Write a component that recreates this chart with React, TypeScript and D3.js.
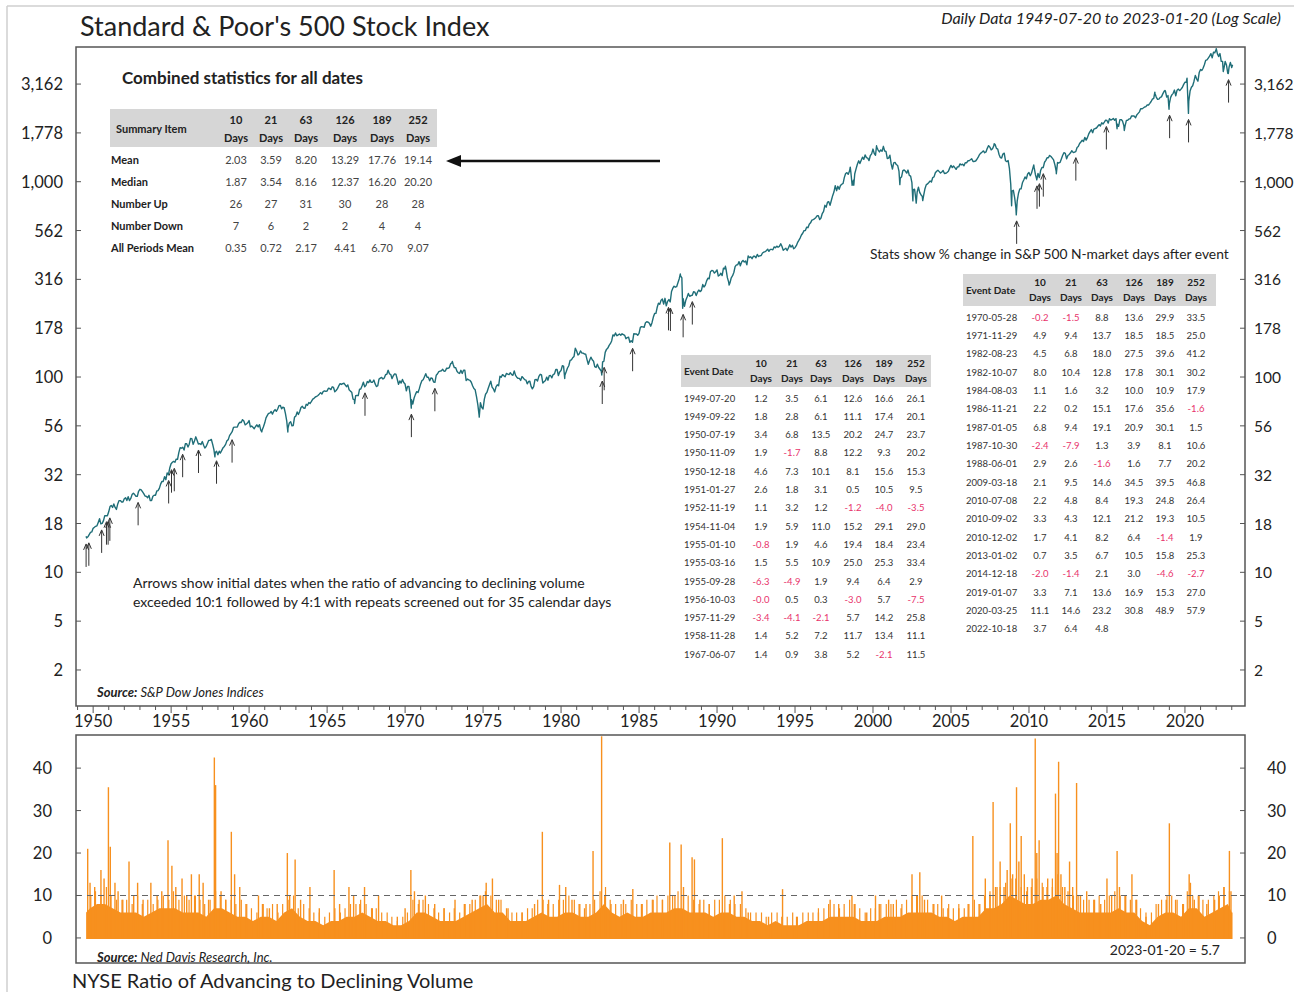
import React from 'react';
import * as d3 from 'd3';

const W = 1294;
const H = 992;
const FONT = "Lato, 'Open Sans', sans-serif";

// ---------- S&P 500 month-end values (from 1949-07) ----------
const spxFirstYear = 1949;
const spxFirstMonth = 6; // July (0-based)
const spxMonthly: number[] = [
  15.0, 15.2, 15.6, 16.0, 16.1, 16.8,
  17.0, 17.2, 17.3, 18.0, 18.8, 17.7, 17.8, 18.4, 19.5, 19.5, 19.5, 20.4,
  21.7, 22.0, 21.5, 22.4, 21.5, 21.0, 22.4, 23.3, 23.3, 22.9, 22.9, 23.8,
  24.1, 23.3, 24.4, 23.3, 23.9, 25.0, 25.4, 25.0, 24.5, 24.5, 26.0, 26.6,
  26.4, 25.9, 25.3, 24.6, 24.5, 24.1, 24.8, 23.3, 23.3, 24.5, 24.8, 24.8,
  26.1, 26.2, 26.9, 28.3, 29.2, 29.2, 30.9, 29.8, 32.3, 31.7, 34.2, 36.0,
  36.6, 37.0, 36.6, 38.0, 37.9, 41.0, 43.5, 43.2, 43.7, 42.3, 45.5, 45.5,
  43.8, 45.3, 48.5, 48.4, 45.2, 47.0, 49.4, 47.5, 45.4, 45.6, 45.1, 46.7,
  44.7, 43.3, 44.1, 45.7, 47.4, 47.4, 47.9, 45.2, 42.4, 41.1, 41.7, 40.0,
  41.7, 40.8, 42.1, 43.4, 44.1, 45.2, 47.2, 47.8, 50.1, 51.3, 52.5, 55.2,
  55.4, 55.4, 55.4, 57.6, 58.7, 58.5, 60.5, 59.6, 56.9, 57.5, 58.3, 59.9,
  55.6, 56.1, 55.3, 54.4, 55.8, 56.9, 55.5, 57.0, 53.5, 53.4, 55.5, 58.1,
  61.8, 63.4, 65.1, 65.3, 66.6, 64.6, 66.8, 68.1, 66.7, 68.6, 71.3, 71.6,
  68.8, 70.0, 69.6, 65.2, 59.6, 54.8, 58.2, 59.1, 56.3, 56.5, 62.3, 63.1,
  66.2, 64.3, 66.6, 69.8, 70.8, 69.4, 69.1, 72.5, 71.7, 74.0, 73.2, 75.0,
  77.0, 77.8, 79.0, 79.5, 80.4, 81.7, 83.2, 81.8, 84.2, 84.9, 84.4, 84.8,
  87.6, 87.4, 86.2, 89.1, 88.4, 84.1, 85.3, 87.2, 90.0, 92.4, 91.6, 92.4,
  92.9, 91.2, 89.2, 91.1, 86.1, 84.7, 83.6, 77.1, 76.6, 80.2, 80.5, 80.3,
  86.6, 86.8, 90.2, 94.0, 89.1, 90.6, 94.8, 93.6, 96.7, 93.9, 94.0, 96.5,
  92.2, 89.4, 90.2, 97.6, 98.7, 99.6, 97.7, 98.9, 102.7, 103.4, 108.4, 103.9,
  103.0, 98.1, 101.5, 103.7, 103.5, 97.7, 91.8, 95.5, 93.1, 97.2, 93.8, 92.1,
  85.0, 89.5, 89.6, 81.5, 76.6, 72.7, 78.1, 81.5, 84.2, 83.3, 87.2, 92.2,
  95.9, 96.8, 100.3, 104.0, 99.6, 99.7, 95.6, 99.0, 98.3, 94.2, 94.0, 102.1,
  103.9, 106.6, 107.2, 107.7, 109.5, 107.1, 107.4, 111.1, 110.6, 111.6, 116.7, 118.1,
  116.0, 111.7, 111.5, 107.0, 105.0, 104.3, 108.2, 104.3, 108.4, 108.3, 96.0, 97.6,
  96.6, 96.2, 94.0, 90.3, 87.3, 86.0, 79.3, 72.2, 63.5, 73.9, 70.0, 68.6,
  77.0, 81.6, 83.4, 87.3, 91.2, 95.2, 88.8, 86.9, 83.9, 89.0, 91.2, 90.2,
  100.9, 99.7, 102.8, 101.6, 100.2, 104.3, 103.4, 102.9, 105.2, 102.9, 102.1, 107.5,
  102.0, 99.8, 98.4, 98.4, 96.1, 100.5, 98.9, 97.0, 96.5, 92.3, 94.8, 95.1,
  89.3, 87.0, 89.2, 97.0, 97.2, 95.5, 100.7, 103.3, 102.5, 93.2, 94.7, 96.1,
  99.9, 96.3, 101.6, 101.8, 99.1, 102.9, 103.8, 109.3, 109.3, 101.8, 106.2, 107.9,
  114.2, 113.7, 102.1, 106.3, 111.2, 114.2, 121.7, 122.4, 125.5, 127.5, 140.5, 135.8,
  129.6, 131.3, 136.0, 132.8, 132.6, 131.2, 130.9, 122.8, 116.2, 121.9, 126.4, 122.6,
  120.4, 113.1, 112.0, 116.4, 111.9, 109.6, 107.1, 119.5, 120.4, 133.7, 138.5, 140.6,
  145.3, 148.1, 153.0, 164.4, 162.4, 168.1, 162.6, 164.4, 166.1, 163.6, 166.4, 164.9,
  163.4, 157.1, 159.2, 160.1, 150.6, 153.2, 150.7, 166.7, 166.1, 166.1, 163.6, 167.2,
  179.6, 181.2, 180.7, 179.8, 189.6, 191.9, 190.9, 188.6, 182.1, 189.8, 202.2, 211.3,
  211.8, 226.9, 238.9, 235.5, 247.4, 250.8, 236.1, 252.9, 231.3, 244.0, 249.2, 242.2,
  274.1, 284.2, 291.7, 288.4, 290.1, 304.0, 318.7, 329.8, 321.8, 251.8, 230.3, 247.1,
  257.1, 267.8, 258.9, 261.3, 262.2, 273.5, 272.0, 261.5, 271.9, 279.0, 273.7, 277.7,
  297.5, 288.9, 294.9, 309.6, 320.5, 318.0, 346.1, 351.5, 349.2, 340.4, 346.0, 353.4,
  329.1, 331.9, 339.9, 330.8, 361.2, 358.0, 356.2, 322.6, 306.1, 304.0, 322.2, 330.2,
  343.9, 367.1, 375.2, 375.3, 389.8, 371.2, 387.8, 395.4, 387.9, 392.5, 375.2, 417.1,
  408.8, 412.7, 403.7, 415.0, 415.4, 408.1, 424.2, 414.0, 417.8, 418.7, 431.4, 435.7,
  438.8, 443.4, 451.7, 440.2, 450.2, 450.5, 448.1, 463.6, 458.9, 467.8, 461.8, 466.5,
  481.6, 467.1, 445.8, 450.9, 456.5, 444.3, 458.3, 475.5, 462.7, 472.4, 453.7, 459.3,
  470.4, 487.4, 500.7, 514.7, 533.4, 544.8, 562.1, 561.9, 584.4, 581.5, 605.4, 615.9,
  636.0, 640.4, 645.5, 654.2, 669.1, 670.6, 640.0, 652.0, 687.3, 705.3, 757.0, 740.7,
  786.2, 790.8, 757.1, 801.3, 848.3, 885.1, 954.3, 899.5, 947.3, 914.6, 955.4, 970.4,
  980.3, 1049.3, 1101.8, 1111.8, 1090.8, 1133.8, 1120.7, 957.3, 1017.0, 1098.7, 1163.6, 1229.2,
  1279.6, 1238.3, 1286.4, 1335.2, 1301.8, 1372.7, 1328.7, 1320.4, 1282.7, 1362.9, 1389.0, 1469.3,
  1394.5, 1366.4, 1498.6, 1452.4, 1420.6, 1454.6, 1430.8, 1517.7, 1436.5, 1429.4, 1315.2, 1320.3,
  1366.0, 1239.9, 1160.3, 1249.5, 1255.8, 1224.4, 1211.2, 1133.6, 1040.9, 1059.8, 1139.5, 1148.1,
  1130.2, 1106.7, 1147.4, 1076.9, 1067.1, 989.8, 911.6, 916.1, 815.3, 885.8, 936.3, 879.8,
  855.7, 841.2, 848.2, 916.9, 963.6, 974.5, 990.3, 1008.0, 996.0, 1050.7, 1058.2, 1111.9,
  1131.1, 1144.9, 1126.2, 1107.3, 1120.7, 1140.8, 1101.7, 1104.2, 1114.6, 1130.2, 1173.8, 1211.9,
  1181.3, 1203.6, 1180.6, 1156.9, 1191.5, 1191.3, 1234.2, 1220.3, 1228.8, 1207.0, 1249.5, 1248.3,
  1280.1, 1280.7, 1294.9, 1310.6, 1270.1, 1270.2, 1276.7, 1303.8, 1335.9, 1377.9, 1400.6, 1418.3,
  1438.2, 1406.8, 1420.9, 1482.4, 1530.6, 1503.4, 1455.3, 1474.0, 1526.8, 1549.4, 1481.1, 1468.4,
  1378.6, 1330.6, 1322.7, 1385.6, 1400.4, 1280.0, 1267.4, 1282.8, 1166.4, 968.8, 896.2, 903.3,
  825.9, 735.1, 797.9, 872.8, 919.1, 919.3, 987.5, 1020.6, 1057.1, 1036.2, 1095.6, 1115.1,
  1073.9, 1104.5, 1169.4, 1186.7, 1089.4, 1030.7, 1101.6, 1049.3, 1141.2, 1183.3, 1180.6, 1257.6,
  1286.1, 1327.2, 1325.8, 1363.6, 1345.2, 1320.6, 1292.3, 1218.9, 1131.4, 1253.3, 1247.0, 1257.6,
  1312.4, 1365.7, 1408.5, 1397.9, 1310.3, 1362.2, 1379.3, 1406.6, 1440.7, 1412.2, 1416.2, 1426.2,
  1498.1, 1514.7, 1569.2, 1597.6, 1630.7, 1606.3, 1685.7, 1633.0, 1681.6, 1756.5, 1805.8, 1848.4,
  1782.6, 1859.5, 1872.3, 1884.0, 1923.6, 1960.2, 1930.7, 2003.4, 1972.3, 2018.1, 2067.6, 2058.9,
  1995.0, 2104.5, 2067.9, 2085.5, 2107.4, 2063.1, 2103.8, 1972.2, 1920.0, 2079.4, 2080.4, 2043.9,
  1940.2, 1932.2, 2059.7, 2065.3, 2097.0, 2098.9, 2173.6, 2171.0, 2168.3, 2126.2, 2198.8, 2238.8,
  2278.9, 2363.6, 2362.7, 2384.2, 2411.8, 2423.4, 2470.3, 2471.7, 2519.4, 2575.3, 2647.6, 2673.6,
  2823.8, 2713.8, 2640.9, 2648.1, 2705.3, 2718.4, 2816.3, 2901.5, 2914.0, 2711.7, 2760.2, 2506.9,
  2704.1, 2784.5, 2834.4, 2945.8, 2752.1, 2941.8, 2980.4, 2926.5, 2976.7, 3037.6, 3141.0, 3230.8,
  3225.5, 2954.2, 2584.6, 2912.4, 3044.3, 3100.3, 3271.1, 3500.3, 3363.0, 3270.0, 3621.6, 3756.1,
  3714.2, 3811.2, 3972.9, 4181.2, 4204.1, 4297.5, 4395.3, 4522.7, 4307.5, 4605.4, 4567.0, 4766.2,
  4515.6, 4373.9, 4530.4, 4131.9, 4132.2, 3785.4, 4130.3, 3955.0, 3585.6, 3872.0, 4080.1, 3839.5,
];

// intra-month highs / lows and endpoints
const spxExtremes: [string, number][] = [
  ['1949-07-20', 15.3], ['1957-10-22', 39.0], ['1960-10-25', 52.3], ['1962-06-26', 52.3],
  ['1966-10-07', 73.2], ['1968-11-29', 108.4], ['1970-05-26', 69.3], ['1973-01-11', 120.2],
  ['1974-10-03', 62.3], ['1980-03-27', 98.2], ['1982-08-12', 102.4], ['1987-08-25', 336.8],
  ['1987-10-19', 224.8], ['1990-07-16', 369.0], ['1990-10-11', 295.5], ['1998-07-17', 1186.8],
  ['1998-10-08', 959.4], ['2000-03-24', 1527.5], ['2001-09-21', 965.8], ['2002-07-23', 797.7],
  ['2002-10-09', 776.8], ['2003-03-11', 800.7], ['2007-10-09', 1565.2], ['2008-11-20', 752.4],
  ['2009-03-09', 676.5], ['2010-04-23', 1217.3], ['2010-07-02', 1022.6], ['2011-04-29', 1363.6],
  ['2011-10-03', 1099.2], ['2015-08-25', 1867.6], ['2016-02-11', 1829.1], ['2018-01-26', 2872.9],
  ['2018-09-20', 2930.8], ['2018-12-24', 2351.1], ['2020-02-19', 3386.2], ['2020-03-23', 2237.4],
  ['2022-01-03', 4796.6], ['2022-06-16', 3666.8], ['2022-10-12', 3577.0], ['2023-01-20', 3972.6],
];

const yTickValues = [3.162, 5.623, 10, 17.78, 31.62, 56.23, 100, 177.8, 316.2, 562.3, 1000, 1778, 3162];
const yTickLabels = ['2', '5', '10', '18', '32', '56', '100', '178', '316', '562', '1,000', '1,778', '3,162'];
const yearTicks = [1950, 1955, 1960, 1965, 1970, 1975, 1980, 1985, 1990, 1995, 2000, 2005, 2010, 2015, 2020];

// ---------- events (arrows) ----------
const eventDates = [
  '1949-07-20', '1949-09-22', '1950-07-19', '1950-11-09', '1950-12-18', '1951-01-27', '1952-11-19',
  '1954-11-04', '1955-01-10', '1955-03-16', '1955-09-28', '1956-10-03', '1957-11-29', '1958-11-28',
  '1967-06-07', '1970-05-28', '1971-11-29', '1982-08-23', '1982-10-07', '1984-08-03', '1986-11-21',
  '1987-01-05', '1987-10-30', '1988-06-01', '2009-03-18', '2010-07-08', '2010-09-02', '2010-12-02',
  '2013-01-02', '2014-12-18', '2019-01-07', '2020-03-25', '2022-10-18',
];

// ---------- tables ----------
const periodCols = ['10', '21', '63', '126', '189', '252'];
const summaryLabels = ['Mean', 'Median', 'Number Up', 'Number Down', 'All Periods Mean'];
const summaryValues = [
  ['2.03', '3.59', '8.20', '13.29', '17.76', '19.14'],
  ['1.87', '3.54', '8.16', '12.37', '16.20', '20.20'],
  ['26', '27', '31', '30', '28', '28'],
  ['7', '6', '2', '2', '4', '4'],
  ['0.35', '0.72', '2.17', '4.41', '6.70', '9.07'],
];
const tableA: [string, string[]][] = [
  ['1949-07-20', ['1.2', '3.5', '6.1', '12.6', '16.6', '26.1']],
  ['1949-09-22', ['1.8', '2.8', '6.1', '11.1', '17.4', '20.1']],
  ['1950-07-19', ['3.4', '6.8', '13.5', '20.2', '24.7', '23.7']],
  ['1950-11-09', ['1.9', '-1.7', '8.8', '12.2', '9.3', '20.2']],
  ['1950-12-18', ['4.6', '7.3', '10.1', '8.1', '15.6', '15.3']],
  ['1951-01-27', ['2.6', '1.8', '3.1', '0.5', '10.5', '9.5']],
  ['1952-11-19', ['1.1', '3.2', '1.2', '-1.2', '-4.0', '-3.5']],
  ['1954-11-04', ['1.9', '5.9', '11.0', '15.2', '29.1', '29.0']],
  ['1955-01-10', ['-0.8', '1.9', '4.6', '19.4', '18.4', '23.4']],
  ['1955-03-16', ['1.5', '5.5', '10.9', '25.0', '25.3', '33.4']],
  ['1955-09-28', ['-6.3', '-4.9', '1.9', '9.4', '6.4', '2.9']],
  ['1956-10-03', ['-0.0', '0.5', '0.3', '-3.0', '5.7', '-7.5']],
  ['1957-11-29', ['-3.4', '-4.1', '-2.1', '5.7', '14.2', '25.8']],
  ['1958-11-28', ['1.4', '5.2', '7.2', '11.7', '13.4', '11.1']],
  ['1967-06-07', ['1.4', '0.9', '3.8', '5.2', '-2.1', '11.5']],
];
const tableB: [string, string[]][] = [
  ['1970-05-28', ['-0.2', '-1.5', '8.8', '13.6', '29.9', '33.5']],
  ['1971-11-29', ['4.9', '9.4', '13.7', '18.5', '18.5', '25.0']],
  ['1982-08-23', ['4.5', '6.8', '18.0', '27.5', '39.6', '41.2']],
  ['1982-10-07', ['8.0', '10.4', '12.8', '17.8', '30.1', '30.2']],
  ['1984-08-03', ['1.1', '1.6', '3.2', '10.0', '10.9', '17.9']],
  ['1986-11-21', ['2.2', '0.2', '15.1', '17.6', '35.6', '-1.6']],
  ['1987-01-05', ['6.8', '9.4', '19.1', '20.9', '30.1', '1.5']],
  ['1987-10-30', ['-2.4', '-7.9', '1.3', '3.9', '8.1', '10.6']],
  ['1988-06-01', ['2.9', '2.6', '-1.6', '1.6', '7.7', '20.2']],
  ['2009-03-18', ['2.1', '9.5', '14.6', '34.5', '39.5', '46.8']],
  ['2010-07-08', ['2.2', '4.8', '8.4', '19.3', '24.8', '26.4']],
  ['2010-09-02', ['3.3', '4.3', '12.1', '21.2', '19.3', '10.5']],
  ['2010-12-02', ['1.7', '4.1', '8.2', '6.4', '-1.4', '1.9']],
  ['2013-01-02', ['0.7', '3.5', '6.7', '10.5', '15.8', '25.3']],
  ['2014-12-18', ['-2.0', '-1.4', '2.1', '3.0', '-4.6', '-2.7']],
  ['2019-01-07', ['3.3', '7.1', '13.6', '16.9', '15.3', '27.0']],
  ['2020-03-25', ['11.1', '14.6', '23.2', '30.8', '48.9', '57.9']],
  ['2022-10-18', ['3.7', '6.4', '4.8', '', '', '']],
];

// ---------- NYSE advancing / declining volume ratio ----------
// dense-mass level per half year [year, H1, H2]
const adBase: [number, number, number][] = [
  [1949, 6, 7], [1950, 8, 8], [1951, 7, 6], [1952, 6, 6], [1953, 5, 6], [1954, 7, 7], [1955, 7, 6],
  [1956, 6, 6], [1957, 5, 7], [1958, 7, 6], [1959, 5, 5], [1960, 4, 5], [1961, 5, 4], [1962, 6, 7],
  [1963, 5, 4], [1964, 4, 3], [1965, 4, 4], [1966, 5, 5], [1967, 6, 5], [1968, 4, 4], [1969, 3, 3],
  [1970, 4, 6], [1971, 6, 5], [1972, 4, 4], [1973, 4, 5], [1974, 6, 7], [1975, 8, 6], [1976, 6, 4],
  [1977, 4, 4], [1978, 5, 6], [1979, 5, 5], [1980, 6, 6], [1981, 5, 5], [1982, 6, 8], [1983, 6, 5],
  [1984, 6, 5], [1985, 5, 6], [1986, 6, 6], [1987, 7, 7], [1988, 6, 6], [1989, 6, 5], [1990, 6, 6],
  [1991, 5, 5], [1992, 4, 4], [1993, 3, 4], [1994, 3, 3], [1995, 3, 4], [1996, 4, 4], [1997, 5, 5],
  [1998, 5, 5], [1999, 4, 4], [2000, 4, 5], [2001, 5, 5], [2002, 6, 6], [2003, 6, 6], [2004, 5, 5],
  [2005, 4, 5], [2006, 5, 5], [2007, 7, 7], [2008, 8, 10], [2009, 9, 8], [2010, 8, 9], [2011, 9, 10],
  [2012, 8, 7], [2013, 6, 6], [2014, 6, 6], [2015, 6, 7], [2016, 6, 6], [2017, 4, 3], [2018, 5, 6],
  [2019, 6, 5], [2020, 7, 7], [2021, 5, 6], [2022, 7, 8], [2023, 6, 6],
];
// smaller local peaks per third of each year [year, early, mid, late]
const adMinor: [number, number, number, number][] = [
  [1949, 9, 9, 10], [1950, 11, 10, 12], [1951, 10, 9, 9], [1952, 9, 8, 10], [1953, 8, 9, 8],
  [1954, 9, 10, 9], [1955, 11, 9, 10], [1956, 9, 10, 9], [1957, 8, 9, 11], [1958, 10, 9, 9],
  [1959, 8, 9, 8], [1960, 7, 6, 8], [1961, 7, 8, 6], [1962, 8, 9, 10], [1963, 7, 8, 7],
  [1964, 6, 6, 5], [1965, 6, 7, 6], [1966, 7, 8, 8], [1967, 9, 8, 7], [1968, 7, 6, 6],
  [1969, 5, 4, 5], [1970, 6, 9, 8], [1971, 9, 8, 7], [1972, 6, 7, 6], [1973, 7, 6, 8],
  [1974, 8, 9, 10], [1975, 11, 10, 9], [1976, 9, 7, 6], [1977, 6, 6, 7], [1978, 7, 9, 9],
  [1979, 8, 8, 9], [1980, 9, 10, 9], [1981, 8, 7, 8], [1982, 9, 11, 12], [1983, 9, 8, 8],
  [1984, 8, 9, 8], [1985, 8, 9, 9], [1986, 10, 9, 10], [1987, 10, 11, 10], [1988, 10, 9, 8],
  [1989, 9, 8, 9], [1990, 9, 10, 9], [1991, 8, 8, 7], [1992, 6, 6, 6], [1993, 5, 6, 6],
  [1994, 5, 5, 6], [1995, 5, 6, 6], [1996, 6, 7, 7], [1997, 8, 8, 7], [1998, 8, 9, 8],
  [1999, 7, 6, 7], [2000, 7, 8, 8], [2001, 8, 9, 8], [2002, 9, 10, 10], [2003, 10, 9, 8],
  [2004, 8, 7, 8], [2005, 7, 8, 7], [2006, 8, 9, 8], [2007, 10, 11, 12], [2008, 12, 13, 14],
  [2009, 14, 12, 11], [2010, 12, 14, 13], [2011, 12, 14, 15], [2012, 12, 11, 10], [2013, 10, 9, 9],
  [2014, 9, 10, 9], [2015, 10, 11, 10], [2016, 10, 9, 9], [2017, 7, 6, 6], [2018, 8, 9, 10],
  [2019, 10, 9, 8], [2020, 11, 10, 10], [2021, 9, 9, 10], [2022, 11, 12, 11],
];
const adSpikes: [number, number][] = [
  [1949.65, 21], [1949.8, 13], [1950.1, 12], [1950.5, 16], [1950.7, 14], [1950.98, 35.5], [1951.1, 21.5],
  [1951.4, 13], [1951.6, 11], [1951.9, 9], [1952.3, 18], [1952.6, 10], [1952.85, 13], [1953.2, 9],
  [1953.7, 13], [1954.1, 10], [1954.4, 11], [1954.8, 23], [1955.05, 17], [1955.3, 12], [1955.7, 14],
  [1956.0, 10], [1956.3, 15], [1956.55, 10], [1956.8, 15], [1957.05, 13], [1957.4, 9], [1957.77, 42.5],
  [1957.85, 36], [1958.2, 11], [1958.5, 9], [1958.86, 25], [1959.07, 15], [1959.4, 12], [1959.8, 8],
  [1960.6, 10], [1960.9, 8], [1961.3, 7], [1961.8, 8], [1962.45, 20], [1962.6, 10], [1962.95, 18.5],
  [1963.3, 9], [1963.9, 12], [1964.5, 7], [1965.45, 16], [1965.8, 8], [1966.4, 12], [1966.7, 10],
  [1967.1, 8], [1967.4, 12], [1967.9, 7], [1968.3, 10], [1969.5, 5], [1970.0, 7], [1970.37, 16],
  [1970.6, 11], [1970.9, 9], [1971.3, 10], [1971.9, 8], [1972.5, 7], [1973.2, 9], [1973.8, 8],
  [1974.3, 9], [1974.8, 10], [1975.0, 10], [1975.2, 13], [1975.6, 14], [1976.0, 9], [1976.6, 7],
  [1977.5, 6], [1978.3, 8], [1978.8, 25], [1979.2, 9], [1979.9, 12.5], [1980.3, 12], [1980.7, 9],
  [1981.2, 8], [1981.6, 8], [1982.05, 20.5], [1982.6, 47.5], [1982.8, 10], [1983.2, 8], [1984.0, 9],
  [1984.6, 11.5], [1985.2, 8], [1985.9, 9], [1986.5, 9], [1986.97, 22.5], [1987.3, 10], [1987.7, 22],
  [1987.85, 12], [1988.4, 19], [1988.55, 18.5], [1988.9, 9], [1989.5, 8], [1990.34, 23.5], [1990.8, 8],
  [1991.1, 10], [1991.6, 11], [1992.0, 6], [1993.3, 5], [1994.2, 11.5], [1995.1, 5], [1996.5, 6],
  [1997.25, 9], [1997.8, 8], [1998.65, 10], [1998.8, 8], [1999.6, 6], [2000.16, 10], [2000.4, 8],
  [2001.0, 9], [2001.3, 8], [2001.8, 7], [2002.5, 15], [2002.8, 10], [2003.0, 15.5], [2003.3, 9],
  [2003.9, 8], [2004.4, 10], [2004.8, 7], [2005.5, 7], [2006.1, 8], [2006.4, 24], [2006.8, 8],
  [2007.2, 14], [2007.5, 10], [2007.7, 32], [2007.95, 12], [2008.15, 18], [2008.4, 12], [2008.6, 16],
  [2008.8, 27], [2008.95, 15], [2009.2, 35.5], [2009.35, 18], [2009.5, 24], [2009.7, 15], [2009.9, 12],
  [2010.2, 14], [2010.4, 47], [2010.5, 20], [2010.65, 23], [2010.9, 12], [2011.2, 14], [2011.5, 12],
  [2011.7, 34], [2011.8, 20], [2011.9, 41.5], [2012.05, 15], [2012.3, 12], [2012.6, 18], [2012.8, 12],
  [2013.05, 36.5], [2013.3, 10], [2013.7, 11], [2014.2, 9], [2014.6, 8], [2015.0, 14], [2015.3, 10],
  [2015.65, 20.5], [2015.8, 12], [2016.2, 10], [2016.6, 15], [2016.9, 9], [2017.5, 5], [2018.3, 8],
  [2018.8, 9], [2019.0, 27], [2019.4, 9], [2019.9, 8], [2020.27, 15], [2020.35, 13], [2020.6, 9],
  [2020.9, 10], [2021.4, 8], [2021.9, 9], [2022.2, 10], [2022.5, 12], [2022.85, 20.5], [2022.95, 11],
];
const adTicks = [0, 10, 20, 30, 40];

// ---------- helpers ----------
const yearToDate = (yv: number) => {
  const yr = Math.floor(yv);
  const s = new Date(yr, 0, 1).getTime();
  const e = new Date(yr + 1, 0, 1).getTime();
  return new Date(s + (yv - yr) * (e - s));
};
const parse = d3.timeParse('%Y-%m-%d');

// layout
const P = { left: 76, right: 1245, top: 47, bottom: 706 };
const B = { top: 735, bottom: 963 };

const x = d3.scaleTime().domain([yearToDate(1948.9), yearToDate(2023.85)]).range([P.left, P.right]);
const y = d3.scaleLog().domain([2.068, 4895]).range([P.bottom, P.top]);
const yb = d3.scaleLinear().domain([-5.9, 47.8]).range([B.bottom, B.top]);

type Pt = { d: Date; v: number };
const priceData: Pt[] = (() => {
  const pts: Pt[] = spxMonthly.map((v, i) => {
    const mi = spxFirstMonth + i;
    const yr = spxFirstYear + Math.floor(mi / 12);
    const m = mi % 12;
    return { d: new Date(yr, m + 1, 0), v };
  });
  spxExtremes.forEach(([s, v]) => pts.push({ d: parse(s) as Date, v }));
  pts.sort((a, b) => +a.d - +b.d);
  return pts.filter((p) => +p.d >= +(parse('1949-07-20') as Date));
})();

const priceLine = d3.line<Pt>().x((p) => x(p.d)).y((p) => y(p.v))(priceData) || '';

const arrows = eventDates.map((s) => {
  const d = parse(s) as Date;
  const win = priceData.filter((p) => Math.abs(+p.d - +d) <= 32 * 864e5);
  const vmin = d3.min(win, (p) => p.v) ?? 10;
  const tip = y(vmin) + 6;
  return { x: x(d), tip };
});

const START = 1949.55;
const END = 2023.05;
const basePts: [Date, number][] = [];
adBase.forEach(([yr, h1, h2]) => {
  if (yr === 1949) {
    basePts.push([yearToDate(START), h1]);
    basePts.push([yearToDate(1949.8), h2]);
  } else if (yr === 2023) {
    basePts.push([yearToDate(2023.0), h1]);
    basePts.push([yearToDate(END), h2]);
  } else {
    basePts.push([yearToDate(yr + 0.25), h1]);
    basePts.push([yearToDate(yr + 0.75), h2]);
  }
});
const baseArea =
  d3
    .area<[Date, number]>()
    .x((p) => x(p[0]))
    .y0(yb(0) + 1)
    .y1((p) => yb(p[1]))(basePts) || '';

const minorPts: [number, number][] = [];
adMinor.forEach(([yr, a, b, c]) => {
  [[0.15, a], [0.5, b], [0.85, c]].forEach(([off, v]) => {
    const t = yr + off;
    if (t >= START && t <= END) minorPts.push([t, v]);
  });
});

const ORANGE = '#f7901e';
const TEAL = '#1f6e78';
const NEG = '#e8336b';

function EventTable({
  rows, x0, x1, top, headerH, cols, rowY0, step,
}: {
  rows: [string, string[]][]; x0: number; x1: number; top: number; headerH: number; cols: number[]; rowY0: number; step: number;
}) {
  return (
    <g fontFamily={FONT}>
      <rect x={x0} y={top} width={x1 - x0} height={headerH} fill="#d6d6d6" />
      <text x={x0 + 3} y={top + headerH / 2 + 3.5} fontSize={10} fontWeight={700} fill="#222">Event Date</text>
      {periodCols.map((c, i) => (
        <g key={c}>
          <text x={cols[i]} y={top + 12} fontSize={10} fontWeight={700} textAnchor="middle" fill="#222">{c}</text>
          <text x={cols[i]} y={top + 27} fontSize={10} fontWeight={700} textAnchor="middle" fill="#222">Days</text>
        </g>
      ))}
      {rows.map(([date, vals], r) => (
        <g key={date}>
          <text x={x0 + 3} y={rowY0 + r * step + 3.5} fontSize={9.5} fill="#333">{date}</text>
          {vals.map((v, i) => (
            <text key={i} x={cols[i]} y={rowY0 + r * step + 3.5} fontSize={9.5} textAnchor="middle" fill={v.startsWith('-') ? NEG : '#333'}>
              {v}
            </text>
          ))}
        </g>
      ))}
    </g>
  );
}

export default function App() {
  const sumCols = [236, 271, 306, 345, 382, 418];
  const sumRowY = [164, 186, 208, 230, 252];
  return (
    <div style={{ position: 'absolute', left: 0, top: 0, width: W, height: H, background: '#fff' }}>
      <svg width={W} height={H} style={{ display: 'block' }} fontFamily={FONT}>
        <rect x={0} y={0} width={W} height={H} fill="#fff" />
        {/* page border */}
        <line x1={7} y1={6} x2={W} y2={6} stroke="#cfcfcf" strokeWidth={1.5} />
        <line x1={7} y1={6} x2={7} y2={H} stroke="#cfcfcf" strokeWidth={1.5} />

        {/* titles */}
        <text x={80} y={36} fontSize={27} fill="#222">Standard &amp; Poor's 500 Stock Index</text>
        <text x={1281} y={24} fontSize={16} fontStyle="italic" textAnchor="end" fill="#222">
          Daily Data 1949-07-20 to 2023-01-20 (Log Scale)
        </text>

        {/* top panel frame */}
        <rect x={P.left} y={P.top} width={P.right - P.left} height={P.bottom - P.top} fill="none" stroke="#555" strokeWidth={1.5} />

        {/* y ticks */}
        {yTickValues.map((v, i) => (
          <g key={v}>
            <line x1={P.left} x2={P.left + 5} y1={y(v)} y2={y(v)} stroke="#555" />
            <line x1={P.right - 5} x2={P.right} y1={y(v)} y2={y(v)} stroke="#555" />
            <text x={63} y={y(v) + 6} fontSize={16.5} textAnchor="end" fill="#222">{yTickLabels[i]}</text>
            <text x={1254} y={y(v) + 6} fontSize={15.5} fill="#222">{yTickLabels[i]}</text>
          </g>
        ))}

        {/* x ticks */}
        {d3.range(1949, 2024).map((yr) => (
          <line key={yr} x1={x(yearToDate(yr))} x2={x(yearToDate(yr))} y1={P.bottom} y2={P.bottom + (yr % 5 === 0 ? 7 : 4)} stroke="#555" />
        ))}
        {yearTicks.map((yr) => (
          <text key={yr} x={x(yearToDate(yr))} y={727} fontSize={16.5} textAnchor="middle" fill="#222">{yr}</text>
        ))}

        {/* price line */}
        <path d={priceLine} fill="none" stroke={TEAL} strokeWidth={1.4} strokeLinejoin="round" />

        {/* event arrows */}
        {arrows.map((a, i) => (
          <g key={i} stroke="#333" strokeWidth={1} fill="none">
            <line x1={a.x} x2={a.x} y1={a.tip + 1} y2={a.tip + 23} />
            <path d={`M${a.x - 2.5},${a.tip + 6} L${a.x},${a.tip} L${a.x + 2.5},${a.tip + 6}`} />
          </g>
        ))}

        {/* summary table */}
        <text x={122} y={84} fontSize={17} fontWeight={700} fill="#222">Combined statistics for all dates</text>
        <rect x={110} y={109} width={327} height={38} fill="#d6d6d6" />
        <text x={116} y={133} fontSize={11} fontWeight={700} fill="#222">Summary Item</text>
        {periodCols.map((c, i) => (
          <g key={c}>
            <text x={sumCols[i]} y={124} fontSize={11} fontWeight={700} textAnchor="middle" fill="#222">{c}</text>
            <text x={sumCols[i]} y={142} fontSize={11} fontWeight={700} textAnchor="middle" fill="#222">Days</text>
          </g>
        ))}
        {summaryLabels.map((l, r) => (
          <g key={l}>
            <text x={111} y={sumRowY[r]} fontSize={11} fontWeight={700} fill="#222">{l}</text>
            {summaryValues[r].map((v, i) => (
              <text key={i} x={sumCols[i]} y={sumRowY[r]} fontSize={11} textAnchor="middle" fill="#444">{v}</text>
            ))}
          </g>
        ))}

        {/* pointer arrow */}
        <line x1={660} x2={458} y1={161} y2={161} stroke="#111" strokeWidth={2.5} />
        <path d="M446,161 L461,155 L461,167 Z" fill="#111" />

        {/* event tables */}
        <EventTable rows={tableA} x0={681} x1={931} top={355} headerH={32} cols={[761, 792, 821, 853, 884, 916]} rowY0={398} step={18.3} />
        <text x={870} y={259} fontSize={13.8} fill="#222">Stats show % change in S&amp;P 500 N-market days after event</text>
        <EventTable rows={tableB} x0={963} x1={1216} top={274} headerH={32} cols={[1040, 1071, 1102, 1134, 1165, 1196]} rowY0={317} step={18.35} />

        {/* note */}
        <text x={133} y={588} fontSize={14} fill="#222">Arrows show initial dates when the ratio of advancing to declining volume</text>
        <text x={133} y={607} fontSize={14} fill="#222">exceeded 10:1 followed by 4:1 with repeats screened out for 35 calendar days</text>

        <text x={97} y={697} fontSize={13} fontStyle="italic" fill="#222">
          <tspan fontWeight={700}>Source:</tspan> S&amp;P Dow Jones Indices
        </text>

        {/* bottom panel */}
        <rect x={P.left} y={B.top} width={P.right - P.left} height={B.bottom - B.top} fill="none" stroke="#555" strokeWidth={1.5} />
        <path d={baseArea} fill={ORANGE} />
        {minorPts.map(([yr, v], i) => (
          <line key={`m${i}`} x1={x(yearToDate(yr))} x2={x(yearToDate(yr))} y1={yb(0)} y2={yb(v)} stroke={ORANGE} strokeWidth={1.2} />
        ))}
        {adSpikes.map(([yr, v], i) => (
          <line key={i} x1={x(yearToDate(yr))} x2={x(yearToDate(yr))} y1={yb(0)} y2={yb(v)} stroke={ORANGE} strokeWidth={1.4} />
        ))}
        <line x1={P.left} x2={P.right} y1={yb(10)} y2={yb(10)} stroke="#666" strokeDasharray="6,5" strokeWidth={1.1} />
        {adTicks.map((t) => (
          <g key={t}>
            <line x1={P.left} x2={P.left + 5} y1={yb(t)} y2={yb(t)} stroke="#555" />
            <line x1={P.right - 5} x2={P.right} y1={yb(t)} y2={yb(t)} stroke="#555" />
            <text x={52} y={yb(t) + 6} fontSize={16.5} textAnchor="end" fill="#222">{t}</text>
            <text x={1267} y={yb(t) + 6} fontSize={16.5} fill="#222">{t}</text>
          </g>
        ))}
        <text x={97} y={962} fontSize={13} fontStyle="italic" fill="#222">
          <tspan fontWeight={700}>Source:</tspan> Ned Davis Research, Inc.
        </text>
        <text x={1220} y={955} fontSize={14} textAnchor="end" fill="#222">2023-01-20 = 5.7</text>
        <text x={72} y={988} fontSize={20} fill="#222">NYSE Ratio of Advancing to Declining Volume</text>
      </svg>
    </div>
  );
}
